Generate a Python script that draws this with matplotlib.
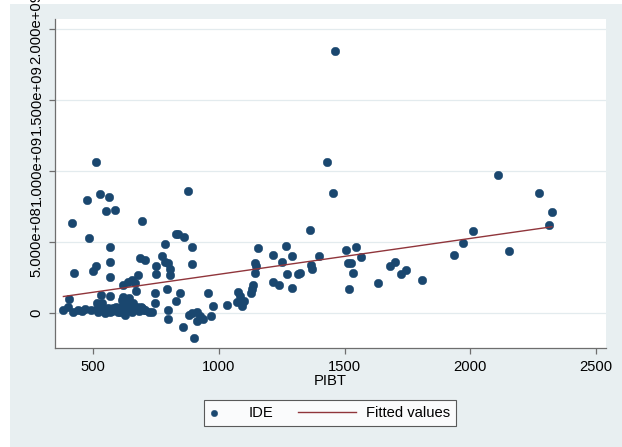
import numpy as np
import matplotlib
matplotlib.use("Agg")
import matplotlib.pyplot as plt
from matplotlib.patches import Rectangle
from matplotlib.legend_handler import HandlerLine2D

plt.rcParams['font.family'] = ['Liberation Sans', 'DejaVu Sans']

# PIBT vs IDE (IDE given in units of 1e8)
pibt = [1462, 1432, 1455, 2110, 2276, 2326, 2314, 2012, 1972, 1935,
        2155, 1809, 1361, 1323, 1367, 1372, 1397, 1506, 1545, 1566,
        1513, 1525, 1533, 1519, 1635, 1682, 1701, 1724, 1745, 1144,
        1270, 1316, 1217, 1239, 1290, 1135, 1131, 1128, 1076, 1084,
        1072, 1098, 1093, 958, 975, 1034, 969, 913, 925, 937,
        913, 899, 892, 1154, 1217, 1268, 1291, 1250, 1146, 1142,
        878, 828, 838, 861, 893, 892, 856, 882, 793, 747,
        747, 799, 799, 828, 845, 511, 527, 562, 474, 549,
        585, 416, 692, 481, 568, 785, 684, 707, 775, 787,
        797, 805, 804, 748, 748, 566, 511, 497, 423, 566,
        679, 619, 637, 653, 666, 670, 531, 568, 618, 405,
        400, 381, 420, 440, 467, 514, 533, 514, 540, 560,
        547, 580, 613, 626, 619, 626, 606, 642, 646, 659,
        673, 650, 693, 706, 732,
        # overlapping observations inside the low cluster
        455, 490, 520, 555, 575, 590, 600, 630, 655, 665,
        680, 700, 720, 530, 565, 610, 640, 690]
ide_e8 = [18.42, 10.62, 8.46, 9.70, 8.46, 7.10, 6.19, 5.76, 4.92, 4.08,
          4.36, 2.32, 5.87, 2.81, 3.37, 3.07, 4.01, 4.43, 4.66, 3.96,
          3.49, 3.49, 2.83, 1.67, 2.13, 3.30, 3.59, 2.72, 3.02, 2.83,
          2.72, 2.74, 2.18, 1.95, 1.76, 1.97, 1.69, 1.43, 1.46, 1.20,
          0.81, 0.88, 0.47, 1.38, 0.49, 0.54, -0.18, 0.09, -0.18, -0.41,
          -0.56, -1.79, -0.02, 4.55, 4.08, 4.71, 4.04, 3.61, 3.30, 3.55,
          8.58, 5.60, 5.53, 5.34, 4.66, 3.44, -0.96, -0.14, 1.67, 1.43,
          0.72, 0.21, -0.44, 0.86, 1.43, 10.62, 8.40, 8.19, 7.94, 7.17,
          7.26, 6.33, 6.47, 5.29, 4.64, 4.89, 3.90, 3.73, 3.99, 3.62,
          3.52, 3.13, 2.67, 3.30, 2.78, 3.59, 3.34, 2.99, 2.81, 2.57,
          2.71, 1.97, 2.20, 2.32, 2.09, 1.55, 1.24, 1.20, 1.15, 1.02,
          0.40, 0.21, 0.09, 0.21, 0.26, 0.68, 0.68, 0.26, 0.21, 0.33,
          -0.02, 0.33, 0.91, 0.68, 0.21, -0.14, 0.09, 1.03, 0.44, 0.68,
          0.44, 0.21, 0.33, 0.21, 0.09,
          0.15, 0.20, 0.10, 0.30, 0.15, 0.40, 0.05, 0.35, 0.10, 0.30,
          0.15, 0.25, 0.10, 0.45, 0.05, 0.40, 0.25, 0.45]

xticks = [500, 1000, 1500, 2000, 2500]
yticks = [0, 5e8, 1e9, 1.5e9, 2e9]
ytick_labels = ['0', '5.000e+08', '1.000e+09', '1.500e+09', '2.000e+09']

x = np.array(pibt, dtype=float)
y = np.array(ide_e8) * 1e8

# linear fit, drawn over the observed PIBT range
slope, intercept = np.polyfit(x, y, 1)
xfit = np.array([x.min(), x.max()])
yfit = intercept + slope * xfit

navy = '#1a476f'
maroon = '#90353b'
bg = '#e8eff1'

W, H = 622, 447
fig = plt.figure(figsize=(W / 100, H / 100), dpi=100, facecolor='white')
fig.patches.append(Rectangle((10 / W, 0), 1 - 10 / W, 1 - 4 / H,
                             transform=fig.transFigure, facecolor=bg,
                             edgecolor='none', zorder=-10))

ax = fig.add_axes([55 / W, 1 - 348 / H, (606 - 55) / W, (348 - 19) / H])
ax.set_facecolor('white')

ax.scatter(x, y, s=38, color=navy, edgecolors=navy, linewidths=0.3,
           zorder=3, label='IDE')
ax.plot(xfit, yfit, color=maroon, lw=1.0, zorder=4, label='Fitted values')

ax.set_xlim(347.5, 2541)
ax.set_ylim(-2.46e8, 2.07e9)
ax.set_xticks(xticks)
ax.set_yticks(yticks)
ax.set_yticklabels(ytick_labels, rotation=90, va='center')

for v in yticks:
    ax.axhline(v, color='#e3ebee', lw=0.9, zorder=1)

for side in ('top', 'right'):
    ax.spines[side].set_visible(False)
for side in ('left', 'bottom'):
    ax.spines[side].set_color('#6e6e6e')
    ax.spines[side].set_linewidth(0.9)
ax.tick_params(axis='both', length=4.3, width=0.9, color='#6e6e6e',
               labelsize=10.6, labelcolor='black', pad=4)

ax.set_xlabel('PIBT', fontsize=10.6, labelpad=0)


class WideLineKey(HandlerLine2D):
    # line key drawn wider than the shared handle box
    def get_xdata(self, legend, xdescent, ydescent, width, height, fontsize):
        mid = -xdescent + width / 2 - 0.25 * fontsize
        half = 1.95 * fontsize
        return [mid - half, mid + half], [mid]


handles, labels = ax.get_legend_handles_labels()
leg = fig.legend(handles, labels, loc='center', ncol=2,
                 bbox_to_anchor=(330 / W, 1 - 413 / H),
                 fontsize=10.6, frameon=True, fancybox=False,
                 handlelength=0.5, handletextpad=2.15, columnspacing=3.6,
                 borderpad=0.4, markerscale=0.75, scatterpoints=1,
                 handler_map={handles[1]: WideLineKey()})
leg.get_frame().set_edgecolor('#333333')
leg.get_frame().set_linewidth(0.8)
leg.get_frame().set_facecolor('white')

fig.savefig('out.png', dpi=100, facecolor='white')
